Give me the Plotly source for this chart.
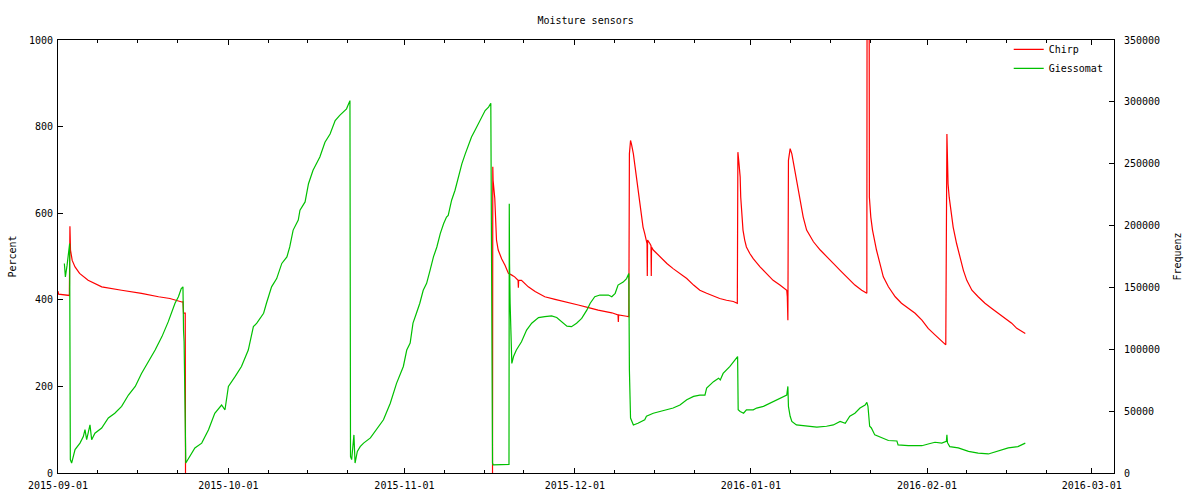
import pandas as pd
import plotly.graph_objects as go

# ---- data (days since 2015-09-01) ----
start_date = "2015-09-01"

chirp_day = [0.0, 0.1, 2.0, 2.1, 2.2, 2.5, 3.0, 3.8, 5.3, 7.7, 11.2, 14.7, 17.7, 19.7, 21.8, 22.0, 22.1, 22.4, 22.45,
             50.0,
             76.5, 76.55, 76.6, 76.9, 77.1, 77.2, 77.5, 78.1, 78.7, 79.3, 79.9, 80.4, 81.0, 81.05, 81.1, 81.6, 82.8,
             84.0, 85.7, 87.5, 89.3, 91.6, 93.4, 95.1, 97.5, 98.6, 98.65, 98.7, 100.1, 100.5,
             100.6, 100.8, 101.0, 101.3, 101.6, 101.9, 102.2, 102.8, 103.0, 103.3, 103.5, 103.7, 103.75, 103.8,
             104.2, 104.4, 104.45, 104.5, 104.8, 106.0, 107.2, 108.3, 109.5, 110.7, 111.9, 113.0, 114.2, 115.4,
             116.5, 117.7, 118.9, 119.6, 119.7, 119.9, 120.1, 120.2, 120.4, 120.6, 120.9, 121.2, 121.8, 122.4,
             123.6, 124.8, 125.9, 127.1, 128.0, 128.3, 128.4, 128.5, 128.6, 128.9, 129.2, 129.5, 130.0, 130.6,
             131.2, 131.8, 133.0, 134.2, 135.3, 136.5, 137.7, 139.1, 140.3, 141.5, 142.4, 142.45, 142.8, 142.85,
             143.1, 143.4, 143.7, 144.1, 144.7, 145.3, 146.2, 147.4, 148.5, 149.7, 150.9, 152.1, 153.2, 154.4,
             155.6, 156.3, 156.5, 156.7, 156.9, 157.2, 157.6, 158.2, 158.8, 159.4, 160.0, 160.9, 162.0, 163.2,
             164.4, 165.6, 166.7, 167.9, 168.8, 169.7, 170.3]
chirp_val = [420, 413, 410, 570, 515, 491, 476, 461, 445, 430, 422, 415, 407, 403, 395, 395, 369, 369, 0,
             None,
             0, 707, 676, 634, 561, 538, 515, 495, 480, 461, 457, 453, 445, 428, 445, 445, 430,
             419, 407, 401, 396, 388, 382, 376, 370, 365, 349, 365, 362, 361,
             737, 768, 757, 737, 707, 676, 645, 591, 568, 553, 538, 530, 455, 538,
             530, 525, 455, 522, 515, 499, 484, 472, 461, 449, 434, 422, 415, 409,
             403, 399, 396, 392, 741, 714, 684, 637, 591, 561, 538, 522, 507, 495,
             476, 461, 445, 434, 426, 422, 407, 353, 722, 749, 737, 714, 684, 637,
             591, 561, 534, 515, 499, 484, 468, 449, 434, 422, 415, 1200, 1200, 637,
             591, 561, 538, 515, 484, 453, 430, 407, 392, 380, 369, 353, 334, 319,
             303, 296, 783, 668, 637, 607, 568, 530, 499, 468, 445, 422, 407, 392,
             380, 369, 357, 346, 334, 326, 322]

giessomat_day = [1.12, 1.3, 1.6, 1.8, 1.95, 2.05, 2.17, 2.4, 3.0, 3.87, 4.46, 4.75, 5.05, 5.63, 5.93, 6.5, 7.69,
                 8.86, 10.0, 11.2, 12.4, 13.6, 14.7, 15.9, 17.1, 18.3, 19.4, 20.6, 21.2, 21.7, 22.0, 22.1, 22.2,
                 22.5, 22.9, 23.5, 24.1, 25.3, 26.5, 27.6, 28.8, 29.4, 30.0, 31.2, 32.3, 33.5, 34.4, 35.0, 36.2,
                 36.7, 37.6, 38.5, 39.4, 40.3, 40.8, 41.4, 42.3, 42.6, 43.5, 44.1, 44.9, 46.1, 47.0, 47.9, 48.8,
                 49.6, 50.8, 51.4, 51.5, 51.7, 51.9, 52.1, 52.3, 52.7, 53.2, 53.8, 55.0, 56.1, 57.3, 58.5, 59.6,
                 60.8, 61.4, 62.0, 62.5, 63.1, 63.7, 64.3, 64.9, 65.5, 66.1, 66.7, 67.3, 67.9, 68.4, 68.7, 69.3,
                 69.9, 70.5, 71.1, 71.7, 72.2, 72.8, 73.4, 74.0, 74.6, 75.2, 75.8, 76.2, 76.5, 76.6, 79.4, 79.45,
                 79.5, 79.6, 79.9, 80.2, 80.7, 81.6, 82.5, 83.4, 84.6, 85.7, 86.9, 87.8, 88.7, 89.6, 90.4, 91.3,
                 92.2, 93.1, 93.7, 94.5, 95.4, 96.9, 97.5, 98.1, 98.6, 99.5, 100.1, 100.5, 100.6, 100.8, 101.3,
                 102.1, 103.3, 103.6, 104.8, 106.0, 107.2, 108.3, 109.5, 110.7, 111.9, 113.0, 113.9, 114.2, 115.4,
                 116.3, 116.6, 117.1, 118.3, 119.2, 119.65, 119.75, 120.1, 120.7, 121.2, 122.4, 123.0, 124.2,
                 125.3, 126.5, 127.7, 128.3, 128.5, 128.6, 128.9, 129.2, 130.0, 131.8, 133.6, 135.3, 136.5,
                 137.7, 138.6, 139.4, 140.3, 141.2, 142.1, 142.4, 142.6, 142.9, 143.2, 143.8, 145.0, 146.2, 147.7,
                 147.9, 149.7, 152.1, 153.2, 154.4, 155.6, 156.4, 156.5, 156.6, 157.0, 158.5, 160.3, 162.0, 163.8,
                 165.5, 167.3, 169.0, 170.3]
giessomat_hz = [169400, 158550, 168000, 174650, 181300, 185500, 10850, 8050, 18900, 24150, 29400, 35000, 26950,
                38850, 26950, 32200, 36400, 44450, 48300, 53900, 63000, 70000, 80500, 89950, 99400, 110250,
                122150, 137200, 142450, 149100, 150500, 115500, 106050, 8050, 10850, 16100, 20300, 24150, 35000,
                48300, 54950, 51100, 70000, 78050, 86100, 99400, 118300, 121100, 129150, 137200, 150500, 157150,
                169400, 174650, 182700, 196350, 204400, 212450, 219100, 233800, 244650, 255500, 267400, 274050,
                284900, 289100, 294350, 301000, 13300, 10850, 21350, 30800, 8050, 17500, 21350, 24150, 28350,
                35000, 43050, 56350, 72450, 86100, 99400, 105000, 121100, 129150, 137200, 147700, 153300, 163800,
                174650, 182700, 193550, 201600, 206850, 208250, 220500, 228550, 239400, 249900, 257950, 264600,
                271600, 276850, 282100, 287700, 292950, 295750, 298900, 8050, 6650, 7000, 217700, 169400, 137200,
                88550, 94150, 99400, 106050, 115500, 121100, 125650, 126350, 127050, 125650, 122150, 118650,
                118300, 121100, 124950, 131600, 137200, 142450, 143850, 143850, 142450, 145250, 151900, 154350,
                157150, 161350, 83300, 44450, 38850, 40250, 43050, 45850, 48300, 49700, 51100, 52500, 54950,
                59150, 61950, 63000, 63000, 68600, 73850, 76650, 75250, 80500, 86100, 91350, 94150, 51100, 49700,
                48300, 51100, 51100, 52500, 53900, 56350, 59150, 61950, 63000, 70000, 53900, 45850, 41650, 38850,
                38150, 37100, 37800, 38850, 41650, 40250, 45850, 48300, 52500, 54950, 57050, 53900, 37800, 36400,
                30800, 28350, 26250, 25900, 22750, 22050, 22050, 23450, 24850, 24150, 25550, 30800, 24500, 21350,
                20300, 17500, 16100, 15400, 17500, 20300, 21350, 24150]

chirp_x = [pd.Timestamp(start_date) + pd.to_timedelta(d, unit="D") for d in chirp_day]
giessomat_x = [pd.Timestamp(start_date) + pd.to_timedelta(d, unit="D") for d in giessomat_day]

FONT = "DejaVu Sans Mono"

fig = go.Figure()
fig.add_trace(go.Scatter(x=chirp_x, y=chirp_val, mode="lines", name="Chirp",
                         line=dict(color="#ff0000", width=1.2), connectgaps=False, yaxis="y"))
fig.add_trace(go.Scatter(x=giessomat_x, y=giessomat_hz, mode="lines", name="Giessomat",
                         line=dict(color="#00c000", width=1.2), yaxis="y2"))

# minor x ticks on the 8th, 15th and 22nd of each month
minor_ticks = []
for m in pd.date_range("2015-09-01", "2016-03-01", freq="MS"):
    for d in (7, 14, 21):
        minor_ticks.append(m + pd.Timedelta(days=d))

fig.update_layout(
    width=1200, height=500,
    margin=dict(l=58, r=86, t=40, b=27, autoexpand=False),
    paper_bgcolor="white", plot_bgcolor="white",
    font=dict(family=FONT, size=10, color="black"),
    title=dict(text="Moisture sensors", x=0.488, xanchor="center", y=0.96, yanchor="middle",
               font=dict(family=FONT, size=10, color="black")),
    showlegend=True,
    legend=dict(x=0.995, y=1.012, xanchor="right", yanchor="top", bgcolor="rgba(0,0,0,0)",
                font=dict(family=FONT, size=10), itemwidth=30, tracegroupgap=0),
    xaxis=dict(
        type="date", range=["2015-09-01", "2016-03-04 22:00"],
        tickmode="linear", tick0="2015-09-01", dtick="M1", tickformat="%Y-%m-%d",
        ticks="inside", ticklen=5, tickcolor="black", tickwidth=1,
        minor=dict(tickmode="array", tickvals=minor_ticks, ticks="inside", ticklen=3,
                   tickcolor="black", showgrid=False),
        showline=True, linecolor="black", linewidth=1, mirror="ticks",
        showgrid=False, zeroline=False, automargin=False, ticklabelstandoff=3,
    ),
    yaxis=dict(
        range=[0, 1000], tickmode="linear", tick0=0, dtick=200,
        ticks="inside", ticklen=5, tickcolor="black",
        showline=True, linecolor="black", linewidth=1, mirror=False,
        showgrid=False, zeroline=False, automargin=False,
        title=dict(text="Percent", standoff=10, font=dict(family=FONT, size=10)),
        ticklabelstandoff=2,
    ),
    yaxis2=dict(
        range=[0, 350000], tickmode="linear", tick0=0, dtick=50000, tickformat="d",
        overlaying="y", side="right",
        ticks="inside", ticklen=5, tickcolor="black",
        showline=True, linecolor="black", linewidth=1,
        showgrid=False, zeroline=False, automargin=False,
        title=dict(text="Frequenz", standoff=14, font=dict(family=FONT, size=10)),
        ticklabelstandoff=7,
    ),
)

fig.write_html("out.html", config={"displayModeBar": False},
               post_script="document.body.style.margin='0px';")
